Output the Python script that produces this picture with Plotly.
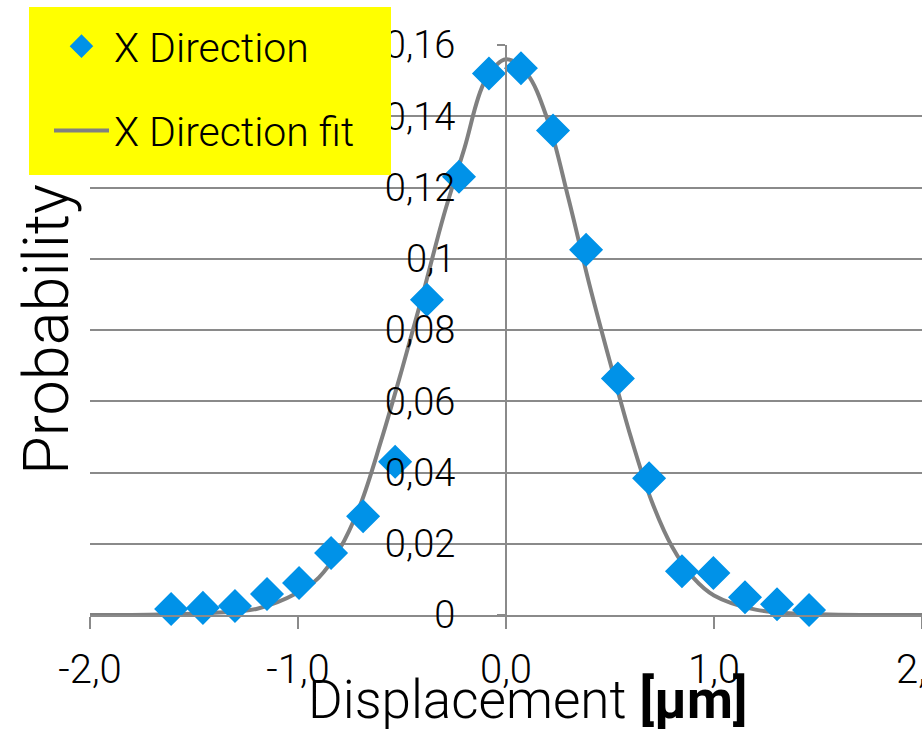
import plotly.graph_objects as go

# measured data (X direction)
disp_x = [-1.61, -1.457, -1.303, -1.149, -0.995, -0.841, -0.687, -0.533, -0.380, -0.226,
          -0.082, 0.072, 0.226, 0.385, 0.538, 0.688, 0.846, 0.997, 1.149, 1.303, 1.457]
prob_x = [0.0017, 0.0020, 0.0025, 0.0059, 0.0090, 0.0174, 0.0277, 0.0430, 0.0885, 0.1230,
          0.1520, 0.1535, 0.1360, 0.1025, 0.0664, 0.0384, 0.0123, 0.0118, 0.0050, 0.0030, 0.0014]

# fit curve
fit_x = [-2.0, -1.8, -1.6, -1.4, -1.2, -1.0, -0.9, -0.8, -0.7, -0.6, -0.5, -0.4, -0.3, -0.2, -0.1,
         0.0, 0.1, 0.2, 0.3, 0.4, 0.5, 0.6, 0.7, 0.8, 0.9, 1.0, 1.2, 1.4, 1.6, 1.8, 2.0]
fit_y = [0.0, 0.0, 0.0002, 0.0006, 0.0017, 0.0063, 0.0105, 0.0185, 0.031, 0.049, 0.069, 0.090,
         0.112, 0.131, 0.150, 0.156, 0.152, 0.139, 0.117, 0.093, 0.071, 0.050, 0.032, 0.019,
         0.0105, 0.0055, 0.0015, 0.0004, 0.0001, 0.0, 0.0]

x_tickvals = [-2, -1, 0, 1, 2]
x_ticktext = ["-2,0", "-1,0", "0,0", "1,0", "2,0"]
y_tickvals = [0, 0.02, 0.04, 0.06, 0.08, 0.1, 0.12, 0.14, 0.16]
y_ticktext = ["0", "0,02", "0,04", "0,06", "0,08", "0,1", "0,12", "0,14", "0,16"]

FONT = "Roboto, 'Open Sans', 'Liberation Sans', sans-serif"
GRID = "#8a8a8a"

fig = go.Figure()
fig.add_trace(go.Scatter(
    x=fit_x, y=fit_y, mode="lines", name="X Direction fit",
    line=dict(color="#808080", width=4, shape="spline", smoothing=1.0),
    cliponaxis=False, legendgroup="b", legendrank=2,
))
fig.add_trace(go.Scatter(
    x=disp_x, y=prob_x, mode="markers", name="X Direction",
    marker=dict(symbol="diamond", size=24, color="#0092E8",
                line=dict(color="#0092E8", width=2)),
    cliponaxis=False, legendgroup="a", legendrank=1,
))

fig.update_layout(
    width=922, height=731,
    margin=dict(l=90, r=0, t=45, b=116, autoexpand=False),
    paper_bgcolor="white", plot_bgcolor="white",
    font=dict(family=FONT, size=40, color="black", weight=300),
    showlegend=True,
    legend=dict(
        x=(49 - 90) / 832, y=1 + (45 - 13) / 570, xanchor="left", yanchor="top",
        bgcolor="rgba(0,0,0,0)", borderwidth=0,
        font=dict(family=FONT, size=41, color="black", weight=300),
        itemwidth=55, tracegroupgap=28, traceorder="grouped",
    ),
    xaxis=dict(
        range=[-2, 2], tickvals=x_tickvals, ticktext=x_ticktext,
        showgrid=False, zeroline=False, automargin=False,
        showline=True, linecolor=GRID, linewidth=2,
        ticks="outside", ticklen=12, tickwidth=2, tickcolor=GRID,
        ticklabelstandoff=6, ticklabeloverflow="allow",
        tickfont=dict(family=FONT, size=40, weight=300),
    ),
    yaxis=dict(
        range=[0, 0.16], tickvals=y_tickvals, ticktext=y_ticktext,
        anchor="free", position=0.5, automargin=False,
        showgrid=True, gridcolor=GRID, gridwidth=2, zeroline=False,
        showline=True, linecolor=GRID, linewidth=2,
        ticks="outside", ticklen=8, tickwidth=2, tickcolor=GRID,
        ticklabelstandoff=34, ticklabeloverflow="allow",
        tickfont=dict(family=FONT, size=38, weight=300),
    ),
    shapes=[dict(type="rect", xref="paper", yref="paper",
                 x0=(29 - 90) / 832, x1=(391 - 90) / 832,
                 y0=1 + (45 - 175) / 570, y1=1 + (45 - 7) / 570,
                 fillcolor="#FFFF00", line=dict(width=0), layer="above")],
    annotations=[
        dict(text="Displacement <b>[µm]</b>", xref="paper", yref="paper",
             x=(527 - 90) / 832, y=1 + (45 - 700) / 570, xanchor="center", yanchor="middle",
             showarrow=False, font=dict(family=FONT, size=53, weight=300, color="black")),
        dict(text="Probability", xref="paper", yref="paper", textangle=-90,
             x=(46 - 90) / 832, y=1 + (45 - 330) / 570, xanchor="center", yanchor="middle",
             showarrow=False, font=dict(family=FONT, size=63, weight=300, color="black")),
    ],
)

fig.write_html("out.html")
